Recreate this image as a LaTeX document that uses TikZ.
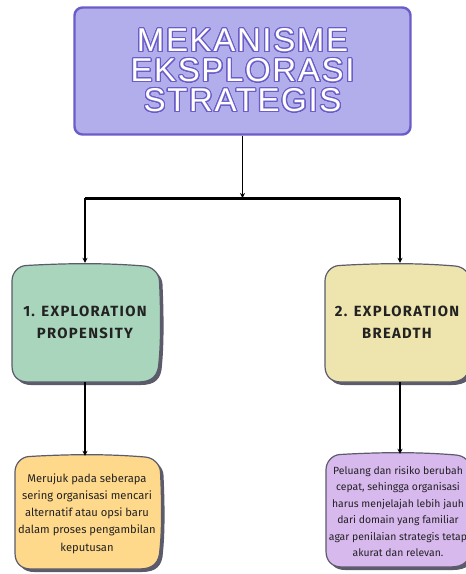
\documentclass[tikz,border=0pt]{standalone}
\usepackage{fontspec}
\usepackage[copies]{contour}
\usetikzlibrary{arrows.meta}
\setmainfont{Fira Sans}
\newfontfamily\titlefont[LetterSpace=5]{Liberation Sans}
\newfontfamily\headfont[LetterSpace=9]{Fira Sans}
\newfontfamily\bodyfont{Fira Sans}

\definecolor{titlefill}{HTML}{B1AEEB}
\definecolor{titleedge}{HTML}{6B5DC8}
\definecolor{blobedge}{HTML}{5C5B6B}
\definecolor{greenfill}{HTML}{A8D5BB}
\definecolor{yellowfill}{HTML}{EEE5AE}
\definecolor{orangefill}{HTML}{FFD98B}
\definecolor{lilacfill}{HTML}{D8B9EE}
\definecolor{inktext}{HTML}{222222}

\contourlength{1.1pt}
\contournumber{32}

% soft hand-drawn box: options, left, bottom, right, top
\newcommand\blobpath[5]{%
  \path[#1] (#2,{(#3)+16}) -- (#2,{(#5)-14})
    .. controls (#2,{(#5)-6}) and ({(#2)+6},{(#5)+1}) .. ({(#2)+14},{(#5)+1.5})
    .. controls ({(#2)+0.4*((#4)-(#2))},{(#5)+4}) and ({(#4)-0.35*((#4)-(#2))},{(#5)+4}) .. ({(#4)-14},{(#5)+1})
    .. controls ({(#4)-6},{(#5)+0.5}) and ({(#4)+1},{(#5)-6}) .. ({(#4)+1.5},{(#5)-14})
    .. controls ({(#4)+3},{(#5)-0.4*((#5)-(#3))}) and ({(#4)+3},{(#3)+0.35*((#5)-(#3))}) .. ({(#4)+1},{(#3)+20})
    .. controls ({(#4)+0.5},{(#3)+6}) and ({(#4)-6},{#3}) .. ({(#4)-20},{#3})
    -- ({(#2)+16},{#3})
    .. controls ({(#2)+6},{#3}) and (#2,{(#3)+6}) .. (#2,{(#3)+16}) -- cycle;
}
% shadowed box: fill colour, left, bottom, right, top
\newcommand\blob[5]{%
  \blobpath{fill=blobedge, shift={(3,-3)}}{#2}{#3}{#4}{#5}
  \blobpath{fill=#1, draw=blobedge, line width=1.2pt}{#2}{#3}{#4}{#5}
}

\tikzset{
  titlebox/.style={rectangle, rounded corners=8pt, fill=titlefill, draw=titleedge,
    line width=2.4pt, inner sep=0pt, align=center, text=white,
    font=\titlefont\fontsize{33}{30}\selectfont},
  headtext/.style={rectangle, inner sep=0pt, align=center, text=inktext,
    font=\headfont\bfseries\fontsize{14.8}{22}\selectfont},
  bodytext/.style={rectangle, inner sep=0pt, align=center, text=inktext,
    font=\bodyfont\fontsize{11.2}{17.3}\selectfont},
  smallbody/.style={bodytext, font=\bodyfont\fontsize{10.4}{16.4}\selectfont},
  conn/.style={line width=1.2pt, -{Stealth[length=5pt,width=5pt]}},
  hub/.style={line width=3pt},
}

\begin{document}
\begin{tikzpicture}[x=1pt, y=1pt]
  \fill[white] (0,0) rectangle (466,-574);
  \useasboundingbox (0,0) rectangle (466,-574);

  % heading
  \node[titlebox, minimum width=336pt, minimum height=127pt] (title) at (242.5,-71)
    {\contour{titleedge}{MEKANISME}\\\contour{titleedge}{EKSPLORASI}\\\contour{titleedge}{STRATEGIS}};

  % branch boxes
  \blob{greenfill}{12}{-382}{158}{-267}
  \node[headtext, minimum width=146pt, minimum height=119pt] (g1) at (85,-322.5)
    {1. EXPLORATION\\PROPENSITY};
  \blob{yellowfill}{325}{-382}{469}{-267}
  \node[headtext, minimum width=144pt, minimum height=119pt] (y1) at (397,-322.5)
    {2. EXPLORATION\\BREADTH};

  % description boxes
  \blob{orangefill}{15}{-569}{159}{-458}
  \node[bodytext, minimum width=144pt, minimum height=115pt] (o1) at (87,-513.5)
    {Merujuk pada seberapa\\sering organisasi mencari\\alternatif atau opsi baru\\dalam proses pengambilan\\keputusan};
  \blob{lilacfill}{326}{-567}{470}{-456}
  \node[smallbody, minimum width=144pt, minimum height=115pt] (p1) at (398,-511.5)
    {Peluang dan risiko berubah\\cepat, sehingga organisasi\\harus menjelajah lebih jauh\\dari domain yang familiar\\agar penilaian strategis tetap\\akurat dan relevan.};

  % connectors
  \coordinate (hubL) at (85,-198);
  \coordinate (hubR) at (400,-198);
  \draw[hub] (hubL) -- (hubR);
  \draw[conn] (title.south) -- (title.south |- hubL);
  \draw[conn] (hubL) -- (hubL |- g1.north);
  \draw[conn] (hubR) -- (hubR |- y1.north);
  \draw[conn] (hubL |- g1.south) -- (hubL |- o1.north);
  \draw[conn] (hubR |- y1.south) -- (hubR |- p1.north);
\end{tikzpicture}
\end{document}
